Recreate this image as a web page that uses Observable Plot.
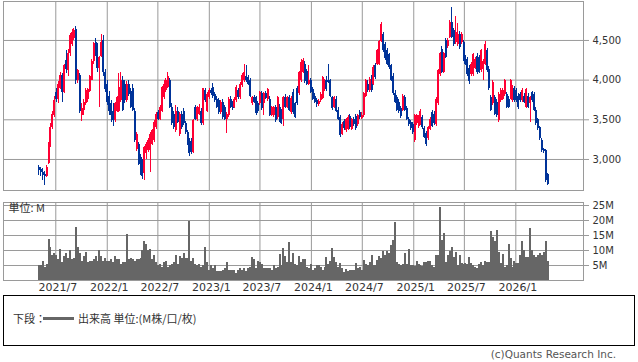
<!DOCTYPE html>
<html><head><meta charset="utf-8">
<script src="https://cdn.jsdelivr.net/npm/d3@7"></script>
<script src="https://cdn.jsdelivr.net/npm/@observablehq/plot@0.6"></script>
<style>
body{margin:0;background:#fff;}
#wrap{position:relative;width:638px;height:362px;font-family:"DejaVu Sans",sans-serif;overflow:hidden;}
#price{position:absolute;left:0;top:0;}
#vol{position:absolute;left:0;top:190px;}
#legend{position:absolute;left:3px;top:295px;width:632px;height:51px;box-sizing:border-box;border:1px solid #000;font-family:"Noto Sans CJK JP",sans-serif;font-size:11px;color:#333;}
#legend span{position:absolute;line-height:1;white-space:nowrap;}
#legend .ln{position:absolute;left:39px;top:21px;width:31px;height:3px;background:#666;}
#copy{position:absolute;right:22px;top:349px;font-size:10.5px;color:#555;line-height:1;white-space:nowrap;}
</style></head>
<body>
<div id="wrap">
  <div id="price"></div>
  <div id="vol"></div>
  <div id="legend"><span style="left:9px;top:17px">下段：</span><div class="ln"></div><span style="left:74px;top:17px">出来高 単位:(M株/口/枚)</span></div>
  <div id="copy">(c)Quants Research Inc.</div>
</div>
<script>
const open = [
2900,2870,2840,2810,2790,2950,3180,3400,3560,3850,
3760,3900,4060,3850,4250,4120,4330,4450,4520,4640,
4000,4060,3560,3620,3700,3760,3860,4000,4230,4480,
4420,4150,4300,4500,4100,3950,3800,3700,3600,3490,
3610,3610,3740,3990,3950,3740,3950,3860,3900,3610,
3130,3190,3030,2980,2820,3070,3110,3110,3190,3240,
3400,3590,3510,3610,3780,3870,3910,3990,3660,3570,
3360,3610,3320,3570,3610,3450,3340,3230,3230,3090,
3650,3500,3570,3600,3450,3870,3610,3780,3870,3910,
3820,3760,3740,3590,3720,3650,3510,3550,3760,3700,
3660,3740,3870,3780,3930,3990,4040,4030,3990,3700,
3780,3780,3700,3700,3830,3700,3830,3750,3760,3560,
3550,3650,3530,3660,3600,3500,3780,3660,3780,3590,
3850,3700,3900,3830,3990,4100,4200,4110,3950,3990,
3880,3800,3740,3690,3740,3770,3880,4000,4000,3990,
3780,3660,3760,3620,3530,3320,3480,3360,3380,3540,
3380,3500,3540,3440,3590,3520,3550,3800,3950,3870,
4030,3950,4180,4200,4200,4490,4580,4450,4370,4320,
4180,4050,3830,3780,3720,3640,3620,3780,3640,3500,
3460,3440,3240,3450,3410,3450,3530,3390,3330,3260,
3380,3590,3570,3440,3700,4070,4390,4100,4500,4420,
4540,4730,4620,4470,4450,4580,4470,4470,4280,4260,
4150,4070,4070,4150,4300,4290,4120,4140,4200,4370,
4140,3780,3700,3780,3720,3490,3740,3760,3820,3820,
3760,3780,3740,3890,3870,3800,3820,3740,3800,3660,
3800,3700,3850,3820,3620,3500,3400,3240,3130,3110,
2810];
const high = [
2920,2900,2880,2850,2930,3210,3450,3610,3790,3900,
3980,4100,4080,4200,4370,4380,4590,4640,4650,4680,
4130,4080,3700,3760,3900,3900,4060,4260,4480,4520,
4460,4300,4580,4560,4140,4000,3860,3740,3700,3720,
3800,4080,4100,4050,4000,3980,3990,3900,3940,3640,
3340,3220,3060,3000,3160,3210,3260,3340,3380,3490,
3590,3620,3680,3920,3990,4020,4100,4020,3700,3600,
3680,3650,3590,3600,3640,3480,3370,3260,3260,3510,
3680,3670,3690,3640,3900,3900,3840,3890,3900,3960,
3850,3790,3770,3740,3750,3680,3590,3780,3790,3730,
3780,3930,3900,3970,4080,4200,4180,4060,4020,3800,
3810,3800,3730,3860,3860,3840,3860,3900,3790,3670,
3670,3680,3800,3690,3630,3800,3820,3800,3810,3790,
3880,3720,3920,4110,4260,4270,4230,4140,4190,4020,
3910,3830,3770,3750,3840,4050,4010,4050,4200,4010,
3800,3790,3790,3650,3560,3460,3510,3520,3550,3570,
3520,3530,3570,3570,3620,3590,3850,4010,3990,4030,
4060,4180,4210,4390,4500,4730,4600,4480,4400,4340,
4200,4080,3870,3810,3750,3670,3820,3810,3670,3530,
3490,3460,3570,3570,3550,3630,3560,3420,3350,3420,
3530,3620,3600,3780,4140,4350,4420,4350,4520,4530,
4750,4920,4650,4800,4710,4610,4600,4500,4310,4290,
4180,4220,4340,4280,4330,4310,4390,4260,4490,4400,
4170,3810,3990,3810,3750,3840,3890,3890,4010,3850,
3790,4010,3930,3920,3900,3830,3850,3890,3830,3900,
3830,3800,3860,3850,3650,3520,3420,3260,3140,3120,
2820];
const low = [
2800,2790,2730,2670,2770,2940,3150,3380,3530,3720,
3700,3880,3720,3830,4080,4050,4300,4420,4500,3950,
3960,3580,3480,3560,3680,3720,3840,3990,4200,4300,
4100,3650,4280,4050,3850,3680,3560,3470,3420,3460,
3590,3590,3720,3600,3700,3720,3800,3640,3600,3220,
3100,2920,2800,2750,2740,3000,3090,2840,3170,3220,
3380,3490,3490,3590,3760,3850,3890,3640,3430,3380,
3340,3450,3290,3380,3430,3320,3170,3040,3060,3070,
3490,3480,3550,3430,3430,3720,3590,3760,3810,3770,
3720,3640,3570,3570,3510,3490,3330,3530,3640,3620,
3640,3720,3760,3760,3910,3970,3970,3930,3780,3680,
3700,3560,3580,3680,3620,3560,3750,3730,3540,3540,
3530,3470,3510,3460,3440,3420,3640,3640,3600,3570,
3570,3520,3680,3810,3970,4080,3960,3930,3930,3830,
3740,3700,3660,3670,3720,3750,3860,3860,3960,3780,
3620,3640,3590,3490,3280,3300,3370,3340,3360,3380,
3360,3420,3370,3420,3510,3500,3530,3780,3850,3850,
3850,3930,4010,4180,4180,4470,4350,4250,4180,4140,
3980,3810,3700,3600,3580,3520,3600,3600,3490,3420,
3370,3320,3210,3430,3390,3430,3380,3260,3160,3240,
3360,3400,3430,3420,3680,4050,4080,4080,4270,4400,
4520,4520,4430,4450,4430,4390,4450,4240,4180,4050,
3950,4050,4050,4130,4070,4080,4100,4000,4180,4100,
3870,3600,3680,3550,3530,3470,3720,3740,3800,3640,
3640,3760,3720,3720,3720,3630,3720,3720,3700,3640,
3640,3470,3720,3600,3430,3370,3240,3090,3080,2710,
2670];
const close = [
2860,2830,2800,2790,2900,3190,3400,3570,3740,3760,
3950,4060,3850,4180,4130,4330,4560,4600,4630,4000,
4120,3600,3640,3720,3870,3880,4040,4240,4460,4400,
4150,4280,4470,4100,3880,3720,3600,3560,3490,3700,
3780,3910,3990,3620,3740,3950,3820,3660,3620,3240,
3320,2940,2840,2780,3150,3190,3240,3320,3360,3470,
3570,3510,3660,3910,3950,3990,4050,3660,3450,3400,
3610,3470,3570,3400,3450,3340,3190,3070,3090,3490,
3510,3650,3660,3450,3890,3740,3820,3870,3830,3790,
3740,3660,3590,3720,3530,3510,3570,3760,3660,3640,
3760,3910,3780,3950,4060,4100,3990,3950,3800,3780,
3720,3580,3600,3850,3640,3830,3770,3880,3560,3650,
3650,3490,3780,3510,3450,3780,3660,3780,3620,3770,
3590,3530,3700,4090,4220,4250,3980,3950,4000,3850,
3760,3720,3690,3730,3820,4030,3990,3880,3970,3800,
3640,3780,3610,3510,3300,3440,3390,3500,3530,3400,
3500,3440,3390,3550,3530,3550,3830,3990,3870,4010,
3870,4160,4030,4370,4490,4700,4370,4270,4200,4160,
4000,3830,3720,3620,3600,3540,3800,3620,3510,3440,
3390,3340,3550,3550,3530,3610,3400,3280,3190,3400,
3510,3420,3450,3760,4120,4330,4100,4330,4290,4500,
4730,4540,4450,4600,4580,4410,4580,4260,4200,4070,
3980,4200,4320,4260,4090,4100,4370,4240,4450,4120,
3890,3620,3970,3570,3550,3820,3870,3870,3990,3660,
3660,3990,3910,3740,3740,3650,3740,3870,3720,3880,
3660,3780,3740,3620,3450,3390,3260,3110,3100,2730,
2690];
const volume = [
5,5,6.5,4.5,5.5,13.7,11,8.5,9,8.5,
7,10.5,6,8,9,7.5,10,7,7.5,17.8,
11,9,6.5,8,9.5,6,6.5,6.5,7,8,
6.5,10,8,6.5,7.5,6.5,6.5,7,6,8,
7,7,5.5,6,6,15.3,7,7.5,7,6.5,
7,7,7.5,10,13,12,10,10.3,7,8.5,
6,5,5.5,4.5,6,6.5,4.5,5,5.5,6,
8.5,5.5,8,7.5,9,7.5,7.5,19.8,6.5,7.5,
5.5,5,5.5,4.5,5,10.9,6,3.5,5,4,
5,3,3,3,3.5,4,6.1,3.5,3.5,3.5,
3.5,2.5,3.5,4,3.5,4,3,4,4.5,7.8,
7,4,6.5,6,5.5,4,4,4,4,3.5,
5,4,4.5,8.7,5,10.6,8,6,12.6,6,
9,5.5,5,8,6,7,7,4.5,4,5.5,
3.5,4,5,5,4.2,3.3,4.2,7.8,5.3,6.5,
10.8,7.8,6.1,4.4,5.6,3.9,2.8,3.6,3.1,3.3,
3.3,3.3,5.8,3.9,4.4,3.3,6.7,5.3,5,6.1,
8.3,5,5,6.7,8,7.2,9.7,8.2,9.7,8.9,
11.7,13.3,19.2,6,5.3,5,5.3,9.1,5.3,10.2,
5,5,4.7,6.3,5.3,5,4.7,5.9,5.9,6.3,
6.3,5,4.2,8.3,8.3,24.4,13.3,15.6,6.1,8.3,
9.7,10.9,7.8,9.4,5,8.3,5.6,5.3,5.8,5.3,
7.6,5.8,5,4.2,3.9,5.3,6.1,5,6.4,6.1,
6.1,16.4,14.4,13,16.7,9.4,5.6,8.7,4.4,5,
12,7.2,4.4,6.4,5.6,5.6,8.3,13.1,10,7.8,
7.8,17.2,10,8.3,7.8,8.3,8.9,8.3,9.4,13.1,
6.4];
const firstWeek = "2021-05-01";
const priceTicks = [3000, 3500, 4000, 4500];
const volTicks = [5, 10, 15, 20, 25];
const xTickLabels = ["2021/7","2022/1","2022/7","2023/1","2023/7","2024/1","2024/7","2025/1","2025/7","2026/1"];
const xStart = "2020-12-26", xEnd = "2026-08-31";

const UP = "#ff0033", DOWN = "#003399";
const t0 = new Date(firstWeek + "T00:00:00Z").getTime();
const data = close.map((c, i) => ({
  date: new Date(t0 + i * 7 * 864e5),
  open: open[i], high: high[i], low: low[i], close: c, volume: volume[i]
}));
const xTicks = xTickLabels.map(s => { const [y, m] = s.split("/").map(Number); return new Date(Date.UTC(y, m - 1, 1)); });
const labelOf = d => `${d.getUTCFullYear()}/${d.getUTCMonth() + 1}`;
const xDomain = [new Date(xStart + "T00:00:00Z"), new Date(xEnd + "T00:00:00Z")];
const col = d => d.close >= d.open ? UP : DOWN;
const grid = {stroke: "#9a9a9a", strokeOpacity: 1};

const price = Plot.plot({
  width: 638, height: 191, marginLeft: 3, marginRight: 55, marginTop: 1, marginBottom: 1,
  style: {fontFamily: "DejaVu Sans", fontSize: "10px", background: "transparent", overflow: "visible"},
  x: {type: "utc", domain: xDomain, axis: null, label: null},
  y: {domain: [2609, 4991], axis: null, label: null},
  marks: [
    Plot.gridY(priceTicks, grid),
    Plot.gridX(xTicks, grid),
    Plot.ruleX(data, {x: "date", y1: "low", y2: "high", stroke: col, strokeWidth: 1, shapeRendering: "crispEdges"}),
    Plot.ruleX(data, {x: "date", y1: "open", y2: "close", stroke: col, strokeWidth: 2, shapeRendering: "crispEdges"}),
    Plot.frame({stroke: "#9a9a9a"}),
    Plot.axisY(priceTicks, {anchor: "right", label: null, tickSize: 5, tickPadding: 4, stroke: "#9a9a9a", fill: "#333", tickFormat: d3.format(","), fontSize: 10})
  ]
});
document.getElementById("price").appendChild(price);

const vol = Plot.plot({
  width: 638, height: 105, marginLeft: 3, marginRight: 55, marginTop: 12, marginBottom: 15,
  style: {fontFamily: "DejaVu Sans", fontSize: "10px", background: "transparent", overflow: "visible"},
  x: {type: "utc", domain: xDomain, axis: null, label: null},
  y: {domain: [0, 26], axis: null, label: null},
  marks: [
    Plot.gridY(volTicks, grid),
    Plot.gridX(xTicks, grid),
    Plot.ruleX(data, {x: "date", y1: 0, y2: "volume", stroke: "#666", strokeWidth: 2, shapeRendering: "crispEdges"}),
    Plot.frame({stroke: "#9a9a9a"}),
    Plot.axisY(volTicks, {anchor: "right", label: null, tickSize: 5, tickPadding: 4, stroke: "#9a9a9a", fill: "#333", tickFormat: d => d + "M", fontSize: 10}),
    Plot.axisX(xTicks, {anchor: "bottom", label: null, tickSize: 0, tickPadding: 3, dx: 2, fill: "#333", tickFormat: labelOf, fontSize: 11}),
    Plot.text(["単位: M"], {text: d => d, frameAnchor: "top-left", dx: 5, dy: 2, lineAnchor: "top", textAnchor: "start", fontSize: 11, fill: "#333", fontFamily: "Noto Sans CJK JP"})
  ]
});
document.getElementById("vol").appendChild(vol);
</script>
</body></html>
